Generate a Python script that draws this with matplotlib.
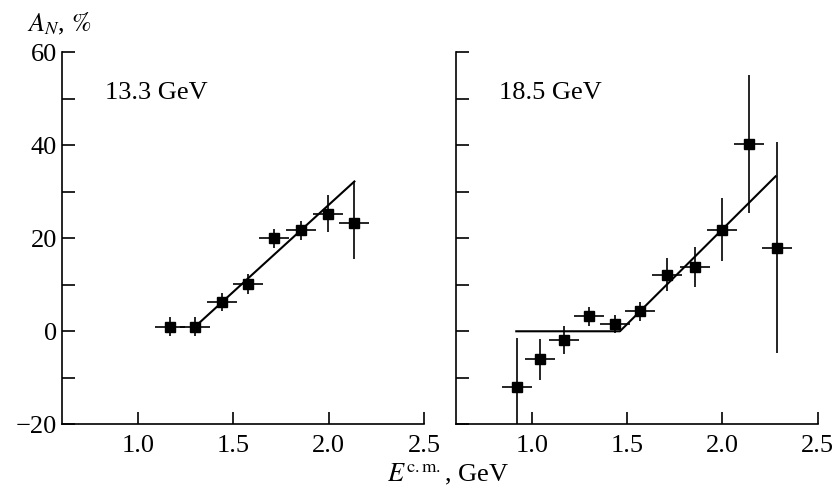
import matplotlib

matplotlib.use("Agg")

import matplotlib.pyplot as plt
from matplotlib.ticker import FormatStrFormatter, MultipleLocator

plt.rcParams["font.family"] = ["Liberation Serif", "DejaVu Serif"]
plt.rcParams["mathtext.fontset"] = "stix"
plt.rcParams["font.size"] = 19

# 13.3 GeV panel
e_133 = [1.168, 1.299, 1.44, 1.576, 1.712, 1.854, 1.996, 2.135]
a_133 = [1.0, 1.0, 6.3, 10.2, 20.0, 21.7, 25.3, 23.2]
a_133_lo = [2.0, 2.0, 2.0, 2.1, 2.0, 2.1, 4.0, 7.7]
a_133_hi = [2.0, 2.0, 2.0, 2.1, 2.0, 2.1, 4.0, 9.0]
fit_133_e = [1.299, 2.135]
fit_133_a = [1.0, 32.2]

# 18.5 GeV panel
e_185 = [0.922, 1.041, 1.169, 1.30, 1.435, 1.569, 1.709, 1.856, 1.996, 2.140, 2.285]
a_185 = [-11.9, -6.0, -1.9, 3.2, 1.6, 4.3, 12.2, 13.8, 21.8, 40.2, 18.0]
a_185_err = [10.5, 4.4, 3.0, 2.0, 2.0, 2.0, 3.6, 4.3, 6.8, 14.8, 22.7]
fit_185_e = [0.918, 1.462, 2.279]
fit_185_a = [0.0, 0.0, 33.3]

e_halfbin = 0.079

fig = plt.figure(figsize=(8.34, 4.91), dpi=100)
ax_l = fig.add_axes([0.0743, 0.1358, 0.434, 0.758])
ax_r = fig.add_axes([0.5464, 0.1358, 0.434, 0.758])

panels = [
    (ax_l, e_133, a_133, [a_133_lo, a_133_hi], fit_133_e, fit_133_a, "13.3 GeV"),
    (ax_r, e_185, a_185, a_185_err, fit_185_e, fit_185_a, "18.5 GeV"),
]

for ax, e, a, aerr, fe, fa, label in panels:
    ax.plot(fe, fa, color="black", lw=1.5, zorder=2)
    ax.errorbar(e, a, xerr=e_halfbin, yerr=aerr, fmt="s", color="black",
                ms=7.5, elinewidth=1.2, capsize=0, zorder=3)
    ax.set_xlim(0.6, 2.5)
    ax.set_ylim(-20, 60)
    ax.set_xticks([1.0, 1.5, 2.0, 2.5])
    ax.xaxis.set_major_formatter(FormatStrFormatter("%.1f"))
    ax.yaxis.set_major_locator(MultipleLocator(20))
    ax.yaxis.set_minor_locator(MultipleLocator(10))
    ax.spines["top"].set_visible(False)
    ax.spines["right"].set_visible(False)
    for side in ("left", "bottom"):
        ax.spines[side].set_linewidth(1.2)
    ax.tick_params(which="both", direction="in", length=9, width=1.2)
    ax.tick_params(axis="x", pad=8)
    ax.text(0.12, 0.92, label, transform=ax.transAxes, ha="left", va="top")

ax_l.set_yticks([-20, 0, 20, 40, 60])
ax_l.set_yticklabels(["\u221220", "0", "20", "40", "60"])
ax_r.tick_params(axis="y", labelleft=False)

fig.text(0.032, 0.978, r"$A_N$, $\mathit{\%}$", ha="left", va="top")
fig.text(0.537, 0.008, r"$E^{\rm c{.}m{.}}$, GeV", ha="center", va="bottom")

fig.savefig("out.png", dpi=100)
